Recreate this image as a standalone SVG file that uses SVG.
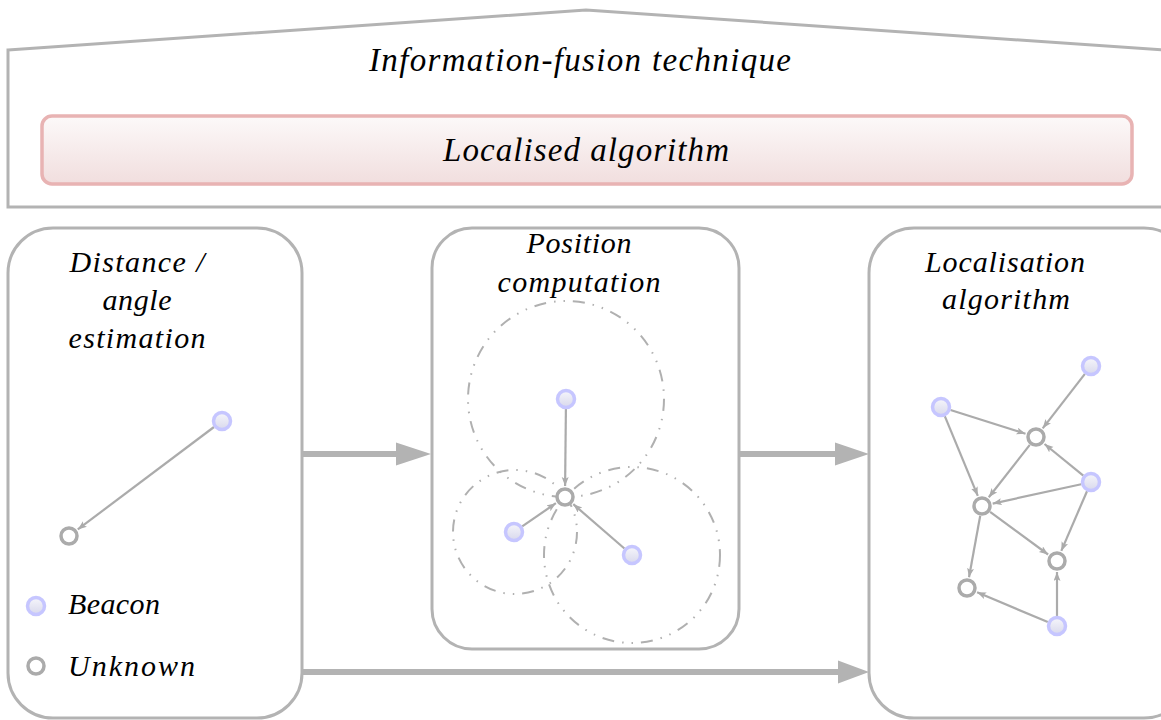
<svg xmlns="http://www.w3.org/2000/svg" width="1161" height="720" viewBox="0 0 1161 720">
<style>
  text { font-family: "Liberation Serif", "DejaVu Serif", serif; font-style: italic; fill: #000; }
  .t30 { font-size: 33px; }
  .t28 { font-size: 30px; }
  .box { fill: #fff; stroke: #b3b3b3; stroke-width: 3; }
  .beacon { fill: url(#bg); stroke: #c6c6ff; stroke-width: 3.5; }
  .unknown { fill: #fff; stroke: #ababab; stroke-width: 3.5; }
  .edge { stroke: #ababab; stroke-width: 2.2; fill: none; marker-end: url(#ah); }
  .range { fill: none; stroke: #b0b0b0; stroke-width: 2; stroke-dasharray: 12 8 1.5 8 1.5 8; }
  .flow { stroke: #b3b3b3; stroke-width: 6; fill: none; }
  .flowhead { fill: #b3b3b3; }
</style>
<defs>
  <linearGradient id="bg" x1="0" y1="0" x2="0" y2="1">
    <stop offset="0" stop-color="#f6f6fb"/>
    <stop offset="1" stop-color="#d8d8ec"/>
  </linearGradient>
  <linearGradient id="pg" x1="0" y1="0" x2="0" y2="1">
    <stop offset="0" stop-color="#fcf9f9"/>
    <stop offset="1" stop-color="#f1dede"/>
  </linearGradient>
  <marker id="ah" markerUnits="userSpaceOnUse" markerWidth="10" markerHeight="8" refX="9" refY="3.5" orient="auto">
    <path d="M0,0 L9,3.5 L0,7 L2,3.5 z" fill="#ababab"/>
  </marker>
</defs>

<g id="fusion">
  <polygon points="8,50 586,10 1163,50 1163,207 8,207" fill="#fff" stroke="#b3b3b3" stroke-width="3"/>
  <text class="t30" x="580" y="71" text-anchor="middle" textLength="422">Information-fusion technique</text>
</g>

<g id="localised">
  <rect x="42" y="116" width="1090" height="68" rx="10" fill="url(#pg)" stroke="#e8b3b3" stroke-width="3.5"/>
  <text class="t30" x="586" y="161" text-anchor="middle" textLength="286">Localised algorithm</text>
</g>

<g id="distance">
  <rect class="box" x="8" y="228" width="294" height="490" rx="45"/>
  <text class="t28" x="137" y="272" text-anchor="middle" textLength="135">Distance /</text>
  <text class="t28" x="137" y="310" text-anchor="middle" textLength="69">angle</text>
  <text class="t28" x="137" y="348" text-anchor="middle" textLength="137">estimation</text>
  <line class="edge" x1="214" y1="427" x2="77.8" y2="529.4"/>
  <circle class="beacon" cx="222" cy="421" r="8.5"/>
  <circle class="unknown" cx="69" cy="536" r="8"/>
  <circle class="beacon" cx="36" cy="606" r="8.5"/>
  <text class="t28" x="68" y="614" textLength="92">Beacon</text>
  <circle class="unknown" cx="36" cy="666" r="8"/>
  <text class="t28" x="68" y="676" textLength="127">Unknown</text>
</g>

<g id="position">
  <rect class="box" x="432" y="228" width="307" height="421" rx="40"/>
  <text class="t28" x="579" y="253" text-anchor="middle" textLength="105">Position</text>
  <text class="t28" x="579" y="292" text-anchor="middle" textLength="163">computation</text>
  <circle class="range" cx="566" cy="399" r="98"/>
  <circle class="range" cx="515" cy="532" r="62"/>
  <circle class="range" cx="632" cy="555" r="88"/>
  <line class="edge" x1="565.9" y1="409" x2="565.1" y2="486"/>
  <line class="edge" x1="522.2" y1="526.3" x2="555.9" y2="503.2"/>
  <line class="edge" x1="624.4" y1="548.5" x2="573.3" y2="504.2"/>
  <circle class="beacon" cx="566" cy="399" r="8.5"/>
  <circle class="beacon" cx="514" cy="532" r="8.5"/>
  <circle class="beacon" cx="632" cy="555" r="8.5"/>
  <circle class="unknown" cx="565" cy="497" r="8"/>
</g>

<g id="localisation">
  <rect class="box" x="869" y="228" width="320" height="490" rx="45"/>
  <text class="t28" x="1005" y="272" text-anchor="middle" textLength="160">Localisation</text>
  <text class="t28" x="1006" y="309" text-anchor="middle" textLength="128">algorithm</text>
  <g id="graph-edges">
    <line class="edge" x1="1084.9" y1="373.9" x2="1042.7" y2="428.3"/>
    <line class="edge" x1="950.5" y1="410" x2="1025.5" y2="433.7"/>
    <line class="edge" x1="944.8" y1="416.2" x2="977.8" y2="495.8"/>
    <line class="edge" x1="1029.8" y1="444.9" x2="988.8" y2="497.3"/>
    <line class="edge" x1="1083.3" y1="475.7" x2="1044.5" y2="444"/>
    <line class="edge" x1="1081.2" y1="484.2" x2="992.7" y2="503.6"/>
    <line class="edge" x1="1087" y1="491.2" x2="1061.3" y2="550.9"/>
    <line class="edge" x1="990.1" y1="511.9" x2="1048.1" y2="554.5"/>
    <line class="edge" x1="980.2" y1="515.8" x2="969" y2="577.2"/>
    <line class="edge" x1="1047.8" y1="622.1" x2="977.1" y2="592.3"/>
    <line class="edge" x1="1057" y1="616" x2="1057" y2="572"/>
  </g>
  <circle class="beacon" cx="1091" cy="366" r="8.5"/>
  <circle class="beacon" cx="941" cy="407" r="8.5"/>
  <circle class="beacon" cx="1091" cy="482" r="8.5"/>
  <circle class="beacon" cx="1057" cy="626" r="8.5"/>
  <circle class="unknown" cx="1036" cy="437" r="8"/>
  <circle class="unknown" cx="982" cy="506" r="8"/>
  <circle class="unknown" cx="1057" cy="561" r="8"/>
  <circle class="unknown" cx="967" cy="588" r="8"/>
</g>

<g id="connectors">
  <line class="flow" x1="302" y1="454" x2="398" y2="454"/>
  <polygon class="flowhead" points="396,442.5 431,454 396,465.5"/>
  <line class="flow" x1="739" y1="454" x2="837" y2="454"/>
  <polygon class="flowhead" points="835,442.5 869,454 835,465.5"/>
  <line class="flow" x1="302" y1="672" x2="840" y2="672"/>
  <polygon class="flowhead" points="838,660.5 869,672 838,683.5"/>
</g>
</svg>
